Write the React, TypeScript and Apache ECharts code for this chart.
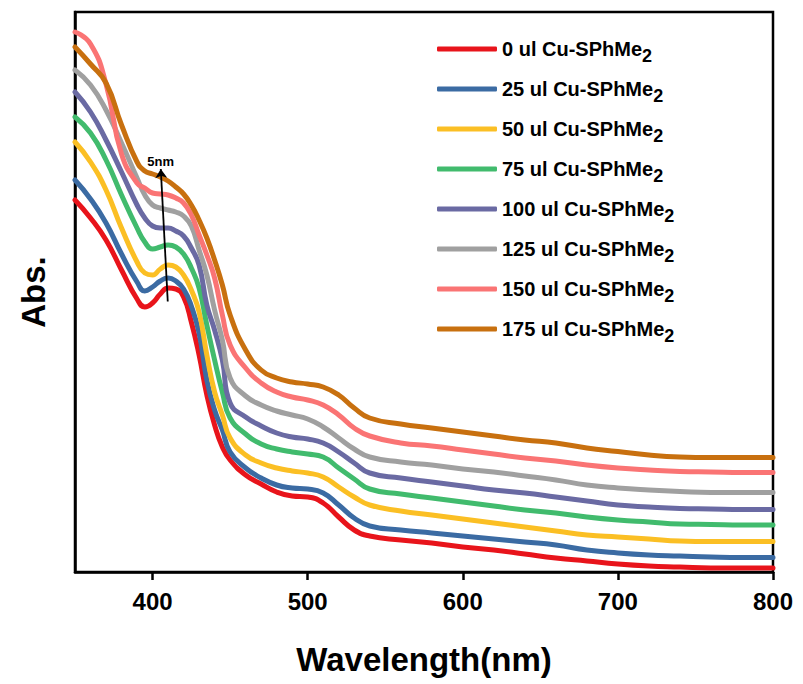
import React, { useEffect, useRef } from "react";
import * as echarts from "echarts";

// Wavelength grid (nm)
const wavelengths = [350, 360, 370, 380, 390, 395, 400, 405, 410, 415, 420, 425, 430, 435, 440, 445, 450, 460, 470, 480, 490, 500, 510, 520, 530, 540, 560, 580, 600, 620, 640, 660, 680, 700, 720, 740, 760, 780, 800];

// Absorbance (arbitrary units)
const abs0 = [0.744, 0.708, 0.664, 0.604, 0.546, 0.53, 0.538, 0.556, 0.568, 0.566, 0.55, 0.5, 0.434, 0.354, 0.294, 0.25, 0.224, 0.194, 0.176, 0.16, 0.152, 0.15, 0.138, 0.11, 0.084, 0.072, 0.064, 0.058, 0.05, 0.044, 0.036, 0.028, 0.022, 0.016, 0.012, 0.01, 0.008, 0.008, 0.008];
const abs25 = [0.784, 0.746, 0.698, 0.636, 0.58, 0.562, 0.57, 0.582, 0.588, 0.582, 0.566, 0.532, 0.478, 0.384, 0.324, 0.284, 0.24, 0.208, 0.188, 0.174, 0.168, 0.166, 0.158, 0.134, 0.108, 0.092, 0.084, 0.078, 0.072, 0.066, 0.06, 0.054, 0.044, 0.038, 0.034, 0.032, 0.03, 0.029, 0.029];
const abs50 = [0.86, 0.82, 0.764, 0.688, 0.62, 0.598, 0.594, 0.606, 0.614, 0.61, 0.594, 0.564, 0.52, 0.434, 0.36, 0.314, 0.268, 0.234, 0.218, 0.208, 0.202, 0.198, 0.19, 0.17, 0.15, 0.134, 0.122, 0.114, 0.106, 0.098, 0.09, 0.082, 0.074, 0.07, 0.066, 0.062, 0.061, 0.061, 0.061];
const abs75 = [0.91, 0.878, 0.824, 0.754, 0.688, 0.66, 0.646, 0.65, 0.654, 0.65, 0.636, 0.608, 0.568, 0.494, 0.424, 0.36, 0.308, 0.276, 0.256, 0.246, 0.24, 0.236, 0.23, 0.208, 0.186, 0.166, 0.156, 0.148, 0.14, 0.132, 0.124, 0.118, 0.11, 0.104, 0.1, 0.096, 0.095, 0.094, 0.094];
const abs100 = [0.96, 0.92, 0.864, 0.8, 0.734, 0.708, 0.692, 0.688, 0.688, 0.682, 0.672, 0.648, 0.614, 0.534, 0.484, 0.424, 0.338, 0.31, 0.292, 0.278, 0.27, 0.266, 0.258, 0.24, 0.218, 0.198, 0.188, 0.18, 0.172, 0.164, 0.158, 0.15, 0.142, 0.134, 0.13, 0.127, 0.126, 0.125, 0.125];
const abs125 = [1.004, 0.974, 0.924, 0.858, 0.788, 0.754, 0.734, 0.728, 0.724, 0.72, 0.712, 0.692, 0.644, 0.594, 0.524, 0.464, 0.388, 0.352, 0.334, 0.322, 0.314, 0.306, 0.29, 0.268, 0.246, 0.23, 0.22, 0.214, 0.206, 0.2, 0.192, 0.184, 0.174, 0.168, 0.164, 0.161, 0.159, 0.159, 0.159];
const abs150 = [1.08, 1.056, 0.976, 0.836, 0.778, 0.768, 0.758, 0.756, 0.754, 0.748, 0.738, 0.714, 0.674, 0.634, 0.588, 0.514, 0.454, 0.408, 0.378, 0.36, 0.35, 0.344, 0.334, 0.314, 0.288, 0.272, 0.258, 0.252, 0.244, 0.236, 0.228, 0.222, 0.214, 0.208, 0.204, 0.201, 0.2, 0.199, 0.199];
const abs175 = [1.05, 1.016, 0.978, 0.894, 0.82, 0.802, 0.796, 0.79, 0.782, 0.77, 0.756, 0.734, 0.704, 0.668, 0.624, 0.574, 0.514, 0.444, 0.404, 0.388, 0.38, 0.376, 0.37, 0.354, 0.328, 0.308, 0.296, 0.288, 0.28, 0.272, 0.264, 0.258, 0.248, 0.241, 0.234, 0.23, 0.229, 0.229, 0.229];

const seriesNames = [
  "0 ul Cu-SPhMe2",
  "25 ul Cu-SPhMe2",
  "50 ul Cu-SPhMe2",
  "75 ul Cu-SPhMe2",
  "100 ul Cu-SPhMe2",
  "125 ul Cu-SPhMe2",
  "150 ul Cu-SPhMe2",
  "175 ul Cu-SPhMe2",
];
const seriesValues = [abs0, abs25, abs50, abs75, abs100, abs125, abs150, abs175];
const seriesColors = ["#e8141b", "#3b6ba3", "#fbbf24", "#41bb6d", "#6a6aa3", "#a0a0a0", "#fa7474", "#c8700f"];

const xTickValues = [400, 500, 600, 700, 800];

// "5nm" shift arrow (wavelength, absorbance)
const arrowFrom = [409.8, 0.541];
const arrowTo = [405.3, 0.806];
const arrowLabel = "5nm";

const FONT = "Liberation Sans, Arial, sans-serif";

export default function App() {
  const ref = useRef<HTMLDivElement>(null);

  useEffect(() => {
    if (!ref.current) return;
    const chart = echarts.init(ref.current, undefined, { renderer: "svg" });

    const series: any[] = seriesNames.map((name, i) => ({
      name,
      type: "line",
      data: wavelengths.map((w, k) => [w, seriesValues[i][k]]),
      smooth: 0.5,
      showSymbol: false,
      symbol: "none",
      lineStyle: { width: 5, color: seriesColors[i], cap: "round", join: "round" },
      itemStyle: { color: seriesColors[i] },
      z: 2,
    }));

    series.push({
      name: "arrow",
      type: "line",
      data: [],
      z: 5,
      markLine: {
        silent: true,
        symbol: ["none", "arrow"],
        symbolSize: 9,
        animation: false,
        lineStyle: { color: "#000", width: 1.8, type: "solid" },
        label: {
          show: true,
          position: "end",
          formatter: arrowLabel,
          fontSize: 13,
          fontWeight: "bold",
          fontFamily: FONT,
          color: "#000",
          distance: 1,
        },
        data: [[{ coord: arrowFrom }, { coord: arrowTo }]],
      },
    });

    chart.setOption({
      animation: false,
      backgroundColor: "#fff",
      grid: {
        left: 75,
        right: 30,
        top: 12,
        bottom: 112,
        show: true,
        borderColor: "#000",
        borderWidth: 2.5,
        backgroundColor: "transparent",
      },
      legend: {
        data: seriesNames,
        orient: "vertical",
        left: 437,
        top: 33,
        padding: 0,
        itemWidth: 60,
        itemHeight: 5,
        itemGap: 8,
        icon: "roundRect",
        selectedMode: false,
        formatter: (name: string) => `{a|${name.slice(0, -1)}}{s|${name.slice(-1)}}`,
        textStyle: {
          color: "#000",
          fontFamily: FONT,
          fontWeight: "bold",
          fontSize: 20,
          rich: {
            a: { fontSize: 20, fontWeight: "bold", fontFamily: FONT, color: "#000", lineHeight: 34, verticalAlign: "middle" },
            s: { fontSize: 18, fontWeight: "bold", fontFamily: FONT, color: "#000", lineHeight: 20, padding: [14, 0, 0, 0], verticalAlign: "middle" },
          },
        },
      },
      xAxis: {
        type: "value",
        min: 350,
        max: 800,
        name: "Wavelength(nm)",
        nameLocation: "middle",
        nameGap: 71,
        nameTextStyle: { fontSize: 33, fontWeight: "bold", fontFamily: FONT, color: "#000" },
        axisLine: { show: true, lineStyle: { color: "#000", width: 2.5 } },
        axisTick: { show: true, inside: false, length: 8, customValues: xTickValues, lineStyle: { color: "#000", width: 2.5 } },
        axisLabel: { customValues: xTickValues, fontSize: 24, fontWeight: "bold", fontFamily: FONT, color: "#000", margin: 17 },
        splitLine: { show: false },
      },
      yAxis: {
        type: "value",
        min: 0,
        max: 1.12,
        name: "Abs.",
        nameLocation: "middle",
        nameGap: 25,
        nameTextStyle: { fontSize: 33, fontWeight: "bold", fontFamily: FONT, color: "#000" },
        axisLine: { show: true, lineStyle: { color: "#000", width: 2.5 } },
        axisTick: { show: false },
        axisLabel: { show: false },
        splitLine: { show: false },
      },
      series,
    });

    return () => chart.dispose();
  }, []);

  return <div ref={ref} style={{ position: "fixed", left: 0, top: 0, width: 803, height: 684 }} />;
}
